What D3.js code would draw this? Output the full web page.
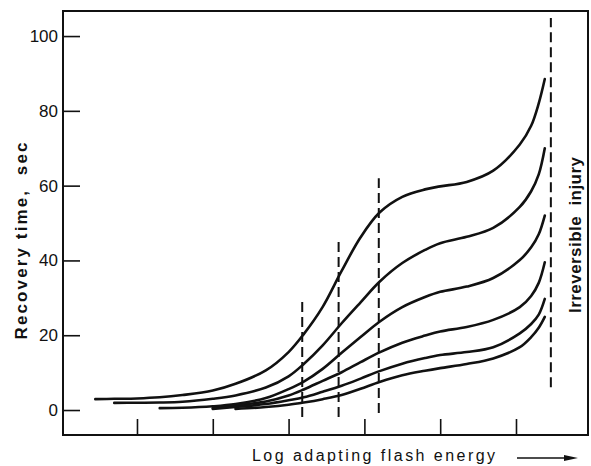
<!DOCTYPE html>
<html><head><meta charset="utf-8">
<script src="https://cdn.jsdelivr.net/npm/d3@7"></script>
<style>
html,body{margin:0;padding:0;background:#fff;}
svg{display:block;}
</style></head>
<body>
<script>
// Log adapting flash energy (arbitrary units), shared grid
const energy = [0.45, 0.7, 1.0, 1.3, 1.6, 2.0, 2.3, 2.7, 3.0, 3.2, 3.45, 3.7, 3.95, 4.2, 4.5, 4.8, 5.0, 5.35, 5.7, 6.05, 6.2, 6.3, 6.38];
// Recovery time (sec), one array per curve (null = curve not drawn there)
const curve1 = [2.9, 3.0, 3.1, 3.4, 4.0, 5.2, 7.0, 10.6, 15.5, 20.3, 27.6, 37.2, 46.2, 52.8, 57.0, 59.0, 59.8, 61.0, 64.0, 71.0, 76.0, 82.0, 88.5];
const curve2 = [null, 1.9, 1.95, 2.0, 2.2, 3.0, 3.9, 6.0, 9.0, 12.3, 17.3, 23.2, 28.8, 34.3, 39.3, 42.8, 44.6, 46.3, 48.7, 54.3, 58.5, 63.0, 70.0];
const curve3 = [null, null, null, 0.5, 0.6, 1.0, 1.6, 3.2, 5.6, 7.6, 11.0, 15.3, 19.5, 23.6, 27.5, 30.2, 31.6, 33.0, 35.3, 40.1, 43.5, 47.0, 52.0];
const curve4 = [null, null, null, null, null, 0.5, 1.2, 2.3, 3.9, 5.5, 7.8, 10.1, 12.8, 15.4, 18.0, 19.9, 21.0, 22.2, 24.1, 27.5, 30.5, 34.0, 39.5];
const curve5 = [null, null, null, null, null, 0.3, 0.8, 1.6, 2.6, 3.4, 4.9, 6.5, 8.4, 10.4, 12.4, 13.9, 14.7, 15.5, 16.8, 20.5, 23.0, 25.5, 29.7];
const curve6 = [null, null, null, null, null, null, 0.3, 0.8, 1.4, 2.0, 2.9, 4.0, 5.7, 7.5, 9.3, 10.5, 11.2, 12.3, 13.8, 16.8, 19.5, 22.0, 24.9];
const curves = [curve1, curve2, curve3, curve4, curve5, curve6];

// Vertical dashed markers: energy position, bottom and top (sec)
const markerEnergy = [3.18, 3.66, 4.19, 6.46];
const markerBottom = [-1.9, -1.9, -0.8, 6.1];
const markerTop = [29.2, 46.0, 62.0, 104.8];

const yTicks = [0, 20, 40, 60, 80, 100];
const xTicks = [1, 2, 3, 4, 5, 6];
const yLabel = "Recovery time,  sec";
const xLabel = "Log adapting flash energy";
const sideLabel = "Irreversible  injury";

const W = 591, H = 466;
const frame = {left: 63, right: 588, top: 11, bottom: 435};

const svg = d3.select("body").append("svg").attr("width", W).attr("height", H);

const x = d3.scaleLinear().domain([0.024, 6.95]).range([frame.left, frame.right]);
const y = d3.scaleLinear().domain([-6.68, 106.7]).range([frame.bottom, frame.top]);

const ink = "#111";

// Axes with inward ticks
const yAxis = svg.append("g").attr("transform", `translate(${frame.left},0)`)
  .call(d3.axisLeft(y).tickValues(yTicks).tickSize(-17).tickPadding(5).tickFormat(d3.format("d")));
yAxis.select(".domain").remove();
yAxis.selectAll(".tick line").attr("stroke", ink).attr("stroke-width", 1.6);
yAxis.selectAll(".tick text").attr("fill", ink)
  .style("font-family", "'Liberation Sans', Arial, sans-serif").style("font-size", "17px");

const xAxis = svg.append("g").attr("transform", `translate(0,${frame.bottom})`)
  .call(d3.axisBottom(x).tickValues(xTicks).tickSize(-16).tickFormat(""));
xAxis.select(".domain").remove();
xAxis.selectAll(".tick line").attr("stroke", ink).attr("stroke-width", 1.6);

// Frame
svg.append("rect")
  .attr("x", frame.left).attr("y", frame.top)
  .attr("width", frame.right - frame.left).attr("height", frame.bottom - frame.top)
  .attr("fill", "none").attr("stroke", ink).attr("stroke-width", 2);

// Dashed markers
svg.append("g").selectAll("line").data(markerEnergy).join("line")
  .attr("x1", d => x(d)).attr("x2", d => x(d))
  .attr("y1", (d, i) => y(markerBottom[i])).attr("y2", (d, i) => y(markerTop[i]))
  .attr("stroke", ink).attr("stroke-width", 2).attr("stroke-dasharray", "10,5");

// Curves
const line = d3.line()
  .defined(d => d[1] != null)
  .x(d => x(d[0])).y(d => y(d[1]))
  .curve(d3.curveCatmullRom.alpha(0.5));

svg.append("g").selectAll("path").data(curves).join("path")
  .attr("d", c => line(c.map((v, i) => [energy[i], v])))
  .attr("fill", "none").attr("stroke", ink).attr("stroke-width", 2.6)
  .attr("stroke-linecap", "round");

// Labels
svg.append("text")
  .attr("transform", "translate(27,241) rotate(-90)")
  .attr("text-anchor", "middle")
  .attr("textLength", 197).attr("lengthAdjust", "spacing")
  .style("font-family", "'Liberation Sans', Arial, sans-serif")
  .style("font-size", "17px").style("font-weight", "bold")
  .attr("fill", ink).style("white-space", "pre")
  .text(yLabel);

svg.append("text")
  .attr("x", 252).attr("y", 461)
  .attr("textLength", 243).attr("lengthAdjust", "spacing")
  .style("font-family", "'Liberation Sans', Arial, sans-serif")
  .style("font-size", "16px")
  .attr("fill", ink)
  .text(xLabel);

svg.append("text")
  .attr("transform", "translate(581,235) rotate(-90)")
  .attr("text-anchor", "middle")
  .attr("textLength", 156).attr("lengthAdjust", "spacing")
  .style("font-family", "'Liberation Sans', Arial, sans-serif")
  .style("font-size", "17px").style("font-weight", "bold")
  .attr("fill", ink).style("white-space", "pre")
  .text(sideLabel);

// Arrow after x label
svg.append("line").attr("x1", 517).attr("y1", 458).attr("x2", 566).attr("y2", 458)
  .attr("stroke", ink).attr("stroke-width", 1.6);
svg.append("path").attr("d", "M564,455 L578,458 L564,461 Z").attr("fill", ink);
</script>
</body></html>
